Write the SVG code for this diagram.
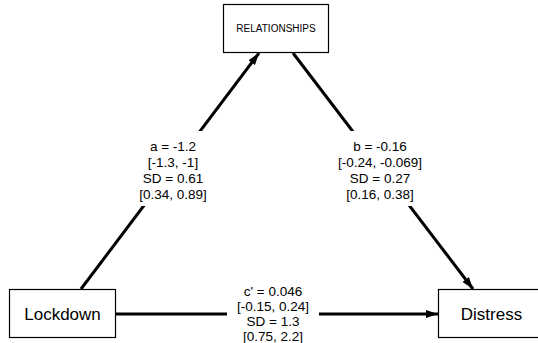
<svg xmlns="http://www.w3.org/2000/svg" width="538" height="343" viewBox="0 0 538 343">
<style>
.box{fill:#fff;stroke:#000;stroke-width:1.2}
.edge{stroke:#000;stroke-width:3;fill:none}
.lbl{font-family:"Liberation Sans",Arial,sans-serif;font-size:13.5px;text-anchor:middle;fill:#000}
.nt{font-family:"Liberation Sans",Arial,sans-serif;font-size:17px;text-anchor:middle;fill:#000}
.st{font-family:"Liberation Sans",Arial,sans-serif;font-size:10px;text-anchor:middle;fill:#000}
.bg{fill:#fff;stroke:none}
</style>
<defs>
<marker id="ah" markerUnits="userSpaceOnUse" markerWidth="12" markerHeight="10" viewBox="0 0 12 10" refX="12" refY="5" orient="auto">
<path d="M0,1 L12,5 L0,9 Z" fill="#000"/>
</marker>
</defs>
<rect width="538" height="343" fill="#fff"/>
<g id="connectors">
<line class="edge" x1="81" y1="289" x2="259" y2="53" marker-end="url(#ah)"/>
<line class="edge" x1="293" y1="53" x2="473" y2="289" marker-end="url(#ah)"/>
<line class="edge" x1="116" y1="314" x2="438" y2="314" marker-end="url(#ah)"/>
<g id="label-a">
<rect class="bg" x="136" y="131" width="74" height="75"/>
<text class="lbl" x="173" y="151">a = -1.2</text>
<text class="lbl" x="173" y="167">[-1.3, -1]</text>
<text class="lbl" x="173" y="183">SD = 0.61</text>
<text class="lbl" x="173" y="199">[0.34, 0.89]</text>
</g>
<g id="label-b">
<rect class="bg" x="338" y="131" width="83" height="75"/>
<text class="lbl" x="380" y="151">b = -0.16</text>
<text class="lbl" x="380" y="167">[-0.24, -0.069]</text>
<text class="lbl" x="380" y="183">SD = 0.27</text>
<text class="lbl" x="380" y="199">[0.16, 0.38]</text>
</g>
<g id="label-c">
<rect class="bg" x="227" y="281" width="92" height="62"/>
<text class="lbl" x="273" y="295.5">c' = 0.046</text>
<text class="lbl" x="273" y="310.5">[-0.15, 0.24]</text>
<text class="lbl" x="273" y="325.5">SD = 1.3</text>
<text class="lbl" x="273" y="340.5">[0.75, 2.2]</text>
</g>
</g>
<g id="node-relationships">
<rect class="box" x="223.5" y="4.5" width="105" height="48"/>
<text class="st" x="276" y="32">RELATIONSHIPS</text>
</g>
<g id="node-lockdown">
<rect class="box" x="9.5" y="289.5" width="106" height="48"/>
<text class="nt" x="62.5" y="320">Lockdown</text>
</g>
<g id="node-distress">
<rect class="box" x="438.5" y="289.5" width="106" height="48"/>
<text class="nt" x="491.5" y="320">Distress</text>
</g>
</svg>
